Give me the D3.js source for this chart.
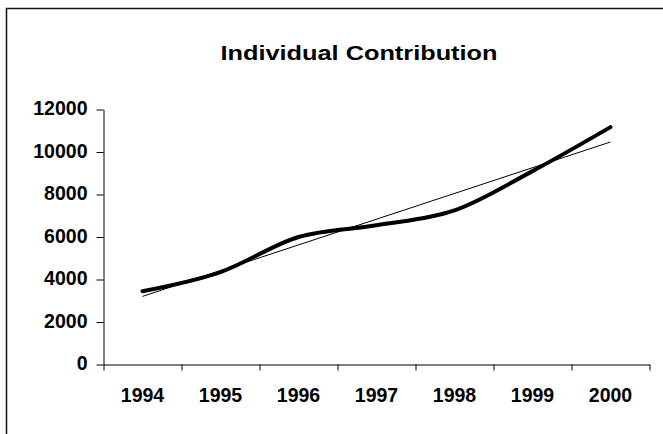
<!DOCTYPE html>
<html>
<head>
<meta charset="utf-8">
<script src="https://cdn.jsdelivr.net/npm/d3@7"></script>
<style>
  html, body { margin: 0; padding: 0; background: #fff; }
  svg { display: block; }
  text { font-family: "Liberation Sans", Arial, sans-serif; font-weight: bold; fill: #000; }
</style>
</head>
<body>
<script>
// Yearly individual contributions
const years = ["1994", "1995", "1996", "1997", "1998", "1999", "2000"];
const contributions = [3450, 4350, 6000, 6550, 7250, 9100, 11170];
const yTicks = [0, 2000, 4000, 6000, 8000, 10000, 12000];
const chartTitle = "Individual Contribution";

const W = 663, H = 434;
const svg = d3.select("body").append("svg").attr("width", W).attr("height", H);

// Outer chart frame
svg.append("rect")
  .attr("x", 6.5).attr("y", 8.5)
  .attr("width", 720).attr("height", 500)
  .attr("fill", "none").attr("stroke", "#111").attr("stroke-width", 1.5);

// Title
svg.append("text")
  .attr("x", 359).attr("y", 60)
  .attr("text-anchor", "middle")
  .attr("font-size", 20.5)
  .attr("textLength", 277)
  .attr("lengthAdjust", "spacingAndGlyphs")
  .text(chartTitle);

const plotLeft = 103.5, plotRight = 649.5, plotTop = 109.5, plotBottom = 364.5;

const x = d3.scaleBand().domain(years).range([plotLeft, plotRight]).padding(0);
const xEdges = d3.scaleLinear().domain([0, years.length]).range([plotLeft, plotRight]);
const y = d3.scaleLinear().domain([0, 12000]).range([plotBottom, plotTop]);

// Y axis
const yAxis = svg.append("g")
  .attr("transform", `translate(${plotLeft},0)`)
  .call(d3.axisLeft(y).tickValues(yTicks).tickFormat(d3.format("d"))
    .tickSizeInner(7).tickSizeOuter(0).tickPadding(9));
yAxis.selectAll("text").attr("font-size", 19.5).attr("dy", "0.27em")
  .style("font-family", "'Liberation Sans', Arial, sans-serif").style("font-weight", "bold");

// X axis line with tick marks between categories
svg.append("g")
  .attr("transform", `translate(0,${plotBottom})`)
  .call(d3.axisBottom(xEdges).tickValues(d3.range(years.length + 1))
    .tickFormat("").tickSizeInner(6).tickSizeOuter(0));

// X category labels, centred in each category
const xLabels = svg.append("g")
  .attr("transform", `translate(0,${plotBottom})`)
  .call(d3.axisBottom(x).tickSize(0).tickPadding(24));
xLabels.select(".domain").remove();
xLabels.selectAll("text").attr("font-size", 19.5)
  .style("font-family", "'Liberation Sans', Arial, sans-serif").style("font-weight", "bold");

svg.selectAll(".domain, .tick line").attr("stroke", "#000");

// Linear trend fitted by least squares
const idx = years.map((_, i) => i);
const n = idx.length;
const mx = d3.mean(idx), my = d3.mean(contributions);
const slope = d3.sum(idx, i => (i - mx) * (contributions[i] - my)) / d3.sum(idx, i => (i - mx) ** 2);
const intercept = my - slope * mx;
const trend = [0, n - 1].map(i => ({ year: years[i], value: intercept + slope * i }));

const cx = d => x(d.year) + x.bandwidth() / 2;

svg.append("path")
  .datum(trend)
  .attr("fill", "none").attr("stroke", "#000").attr("stroke-width", 1)
  .attr("d", d3.line().x(cx).y(d => y(d.value)));

// Smoothed contribution line
const series = years.map((yr, i) => ({ year: yr, value: contributions[i] }));
svg.append("path")
  .datum(series)
  .attr("fill", "none").attr("stroke", "#000").attr("stroke-width", 4)
  .attr("stroke-linecap", "round").attr("stroke-linejoin", "round")
  .attr("d", d3.line().x(cx).y(d => y(d.value)).curve(d3.curveCatmullRom.alpha(0)));
</script>
</body>
</html>
